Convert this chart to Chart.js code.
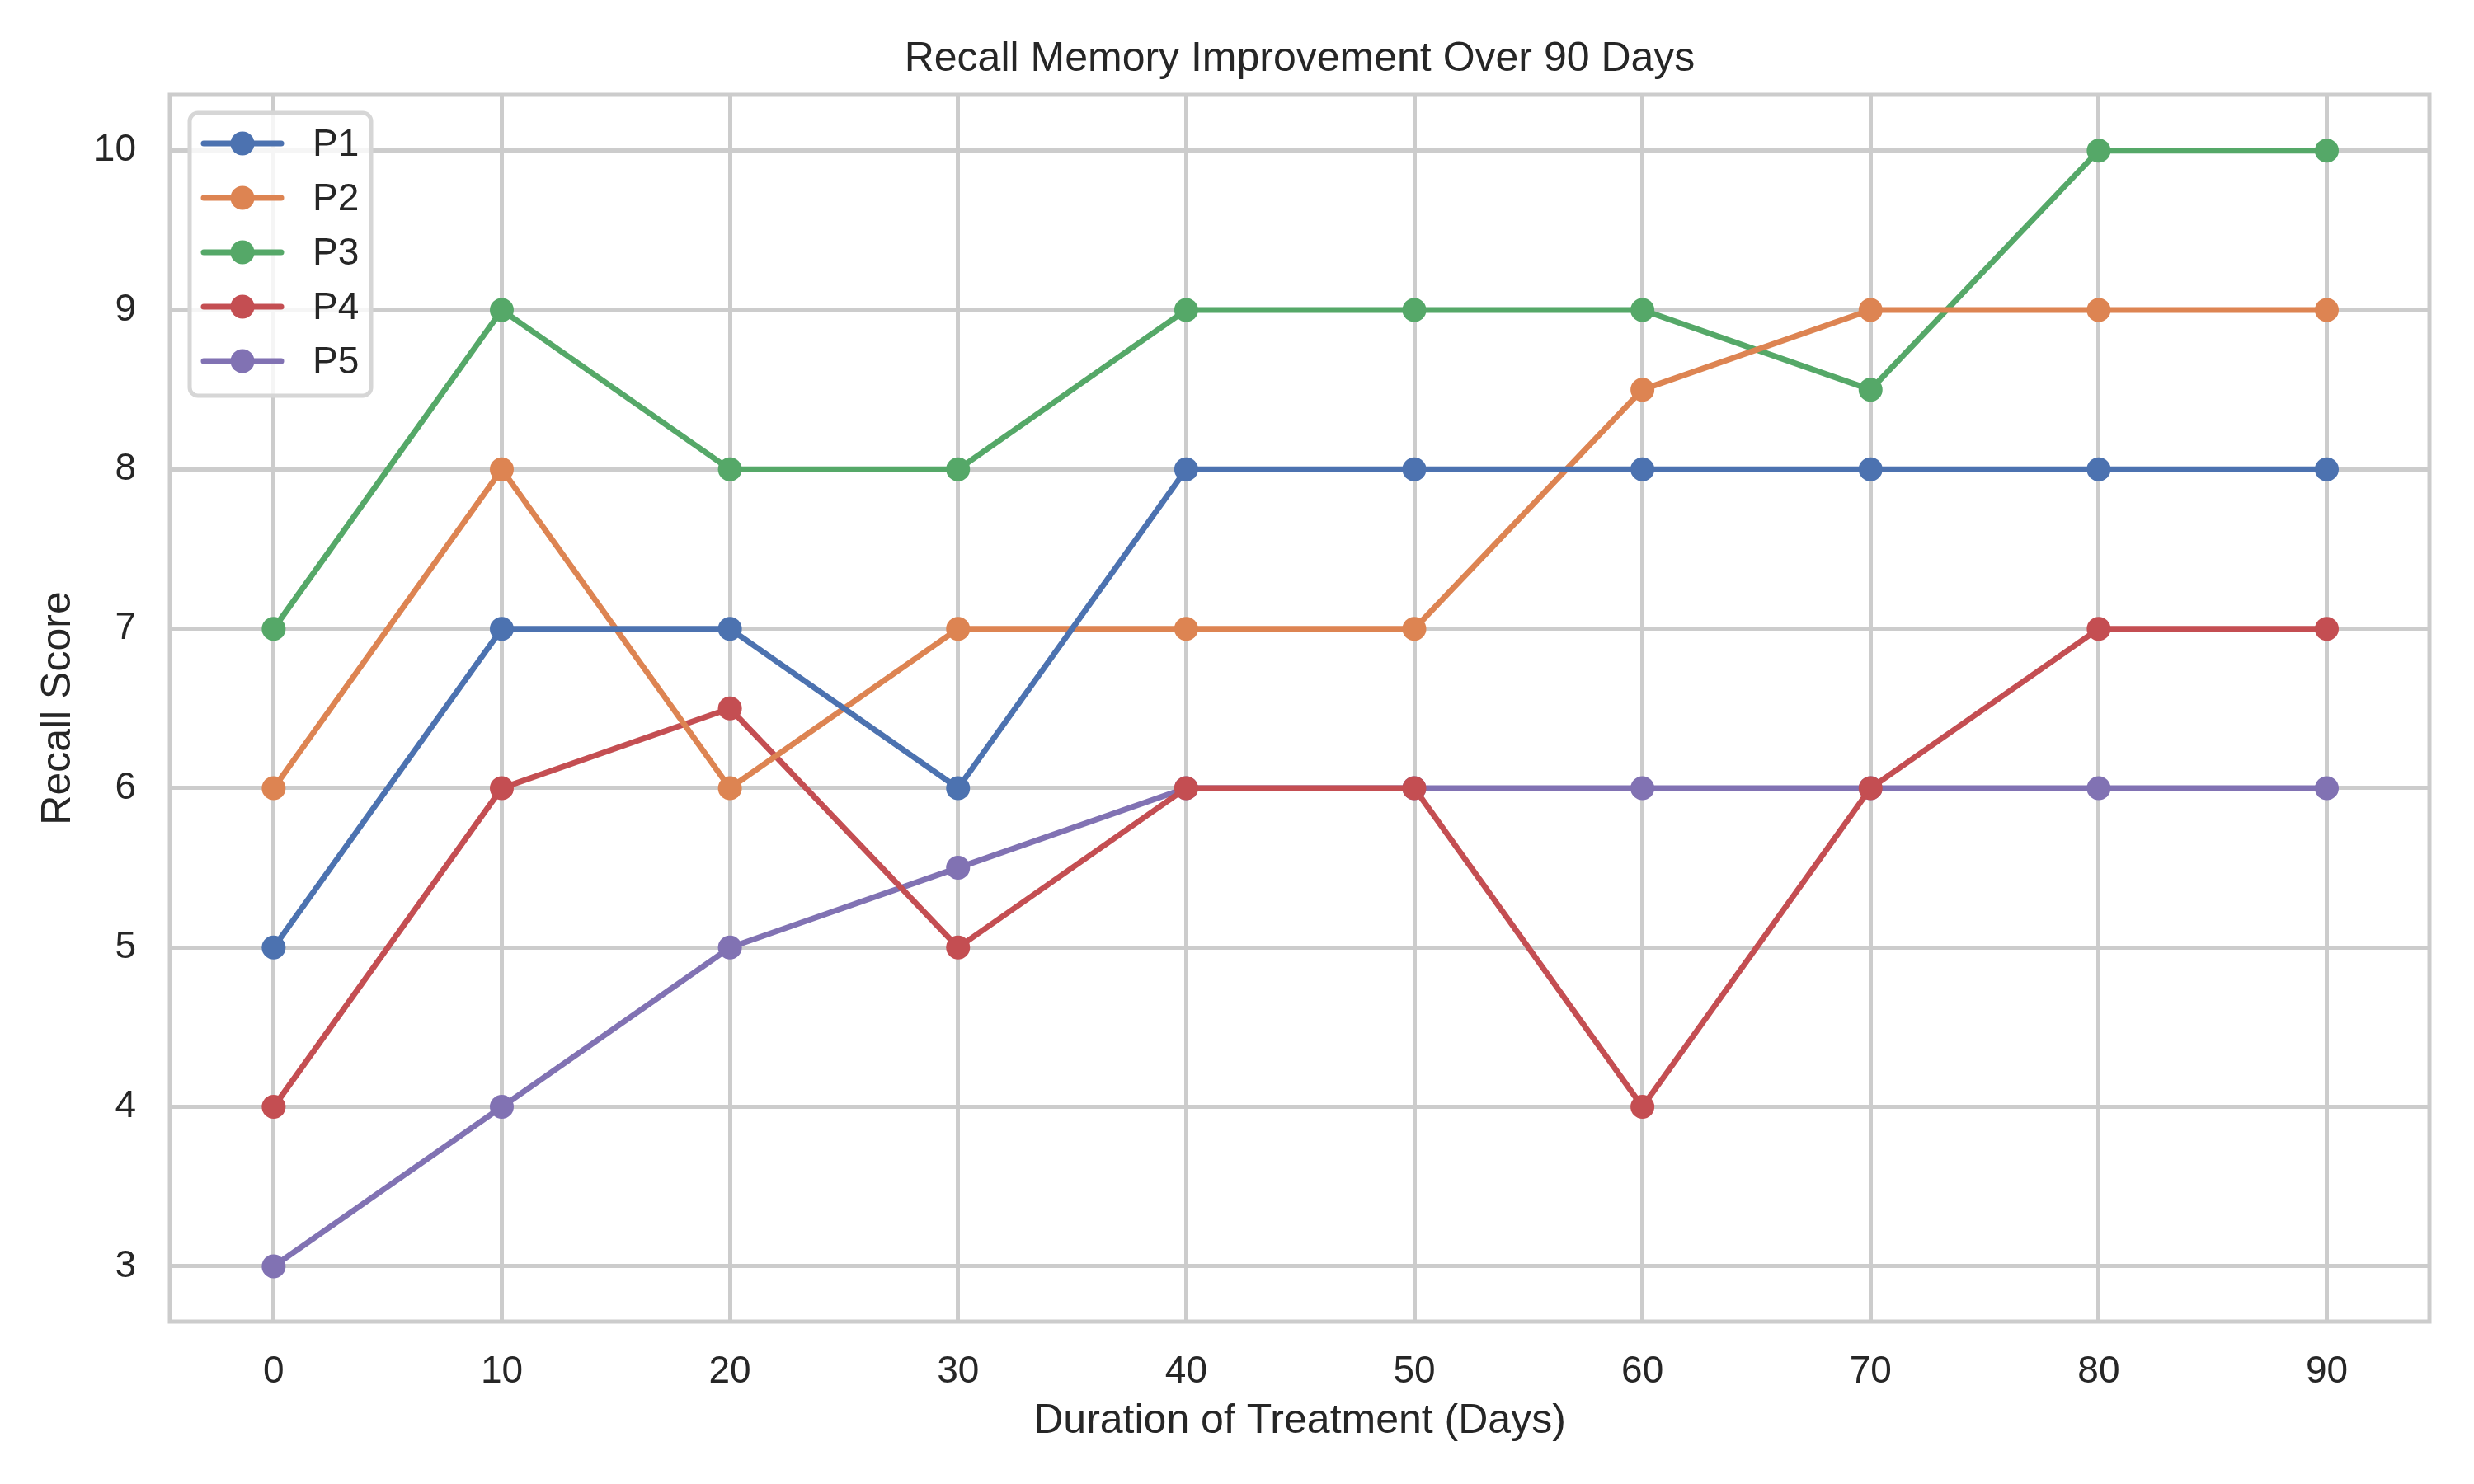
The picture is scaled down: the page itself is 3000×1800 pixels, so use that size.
<!DOCTYPE html>
<html>
<head>
<meta charset="utf-8">
<script src="https://cdn.jsdelivr.net/npm/chart.js@4"></script>
<style>
  html, body { margin: 0; padding: 0; background: #fff; }
  #wrap { width: 3000px; height: 1800px; }
</style>
</head>
<body>
<div id="wrap"><canvas id="lineChart" width="3000" height="1800"></canvas></div>
<script>
// data
const days = [0, 10, 20, 30, 40, 50, 60, 70, 80, 90];
const p1 = [5, 7, 7, 6, 8, 8, 8, 8, 8, 8];
const p2 = [6, 8, 6, 7, 7, 7, 8.5, 9, 9, 9];
const p3 = [7, 9, 8, 8, 9, 9, 9, 8.5, 10, 10];
const p4 = [4, 6, 6.5, 5, 6, 6, 4, 6, 7, 7];
const p5 = [3, 4, 5, 5.5, 6, 6, 6, 6, 6, 6];
const seriesNames = ['P1', 'P2', 'P3', 'P4', 'P5'];
const xTicks = [0, 10, 20, 30, 40, 50, 60, 70, 80, 90];
const yTicks = [3, 4, 5, 6, 7, 8, 9, 10];

const colors = ['#4C72B0', '#DD8452', '#55A868', '#C44E52', '#8172B3'];
const textColor = '#262626';
const gridColor = '#cccccc';

Chart.defaults.font.family = '"Liberation Sans", Arial, sans-serif';
Chart.defaults.color = textColor;

const series = [p1, p2, p3, p4, p5];
const datasets = series.map((vals, i) => ({
    label: seriesNames[i],
    data: vals.map((v, j) => ({ x: days[j], y: v })),
    borderColor: colors[i],
    backgroundColor: colors[i],
    pointBackgroundColor: colors[i],
    pointBorderWidth: 0,
    pointRadius: 14.5,
    borderWidth: 7,
    tension: 0,
    fill: false
}));

// axes frame on all four sides + matplotlib style legend box
const framePlugin = {
    id: 'frame',
    beforeDatasetsDraw(chart) {
        const { ctx, chartArea: a } = chart;
        ctx.save();
        ctx.strokeStyle = gridColor;
        ctx.lineWidth = 5;
        ctx.strokeRect(a.left, a.top, a.right - a.left, a.bottom - a.top);
        ctx.restore();
    },
    afterDatasetsDraw(chart) {
        const { ctx, chartArea: a } = chart;
        const bx = a.left + 24, by = a.top + 22, bw = 220, bh = 343;
        ctx.save();
        ctx.beginPath();
        ctx.roundRect(bx, by, bw, bh, 10);
        ctx.fillStyle = 'rgba(255,255,255,0.8)';
        ctx.fill();
        ctx.strokeStyle = '#d6d6d6';
        ctx.lineWidth = 5;
        ctx.stroke();
        ctx.font = '46px "Liberation Sans", Arial, sans-serif';
        ctx.textBaseline = 'middle';
        ctx.textAlign = 'left';
        chart.data.datasets.forEach((ds, i) => {
            const cy = by + 37 + i * 66;
            ctx.strokeStyle = ds.borderColor;
            ctx.lineWidth = 7;
            ctx.lineCap = 'round';
            ctx.beginPath();
            ctx.moveTo(bx + 17, cy);
            ctx.lineTo(bx + 111, cy);
            ctx.stroke();
            ctx.fillStyle = ds.borderColor;
            ctx.beginPath();
            ctx.arc(bx + 64, cy, 14.5, 0, Math.PI * 2);
            ctx.fill();
            ctx.fillStyle = textColor;
            ctx.fillText(ds.label, bx + 149, cy + 2);
        });
        ctx.restore();
    }
};

new Chart(document.getElementById('lineChart'), {
    type: 'line',
    data: { datasets: datasets },
    plugins: [framePlugin],
    options: {
        responsive: false,
        devicePixelRatio: 1,
        animation: false,
        layout: { padding: { left: 0, top: 0, bottom: 0, right: 54 } },
        plugins: {
            legend: { display: false },
            tooltip: { enabled: false },
            title: {
                display: true,
                text: 'Recall Memory Improvement Over 90 Days',
                fullSize: false,
                color: textColor,
                font: { size: 50, weight: 'normal' },
                padding: { top: 42, bottom: 13 }
            }
        },
        scales: {
            x: {
                type: 'linear',
                min: -4.55,
                max: 94.5,
                afterBuildTicks: s => { s.ticks = xTicks.map(v => ({ value: v })); },
                afterFit: s => { s.height = 197; },
                ticks: { font: { size: 46 }, padding: 34, color: textColor },
                grid: { color: gridColor, lineWidth: 5, drawTicks: false },
                border: { display: false },
                title: {
                    display: true,
                    text: 'Duration of Treatment (Days)',
                    color: textColor,
                    font: { size: 50 },
                    padding: { top: 0, bottom: 46 }
                }
            },
            y: {
                type: 'linear',
                min: 2.653,
                max: 10.35,
                afterBuildTicks: s => { s.ticks = yTicks.map(v => ({ value: v })); },
                afterFit: s => { s.width = 206; },
                ticks: { font: { size: 46 }, padding: 41, color: textColor },
                grid: { color: gridColor, lineWidth: 5, drawTicks: false },
                border: { display: false },
                title: {
                    display: true,
                    text: 'Recall Score',
                    color: textColor,
                    font: { size: 50 },
                    padding: { top: 41, bottom: 0 }
                }
            }
        }
    }
});
</script>
</body>
</html>
